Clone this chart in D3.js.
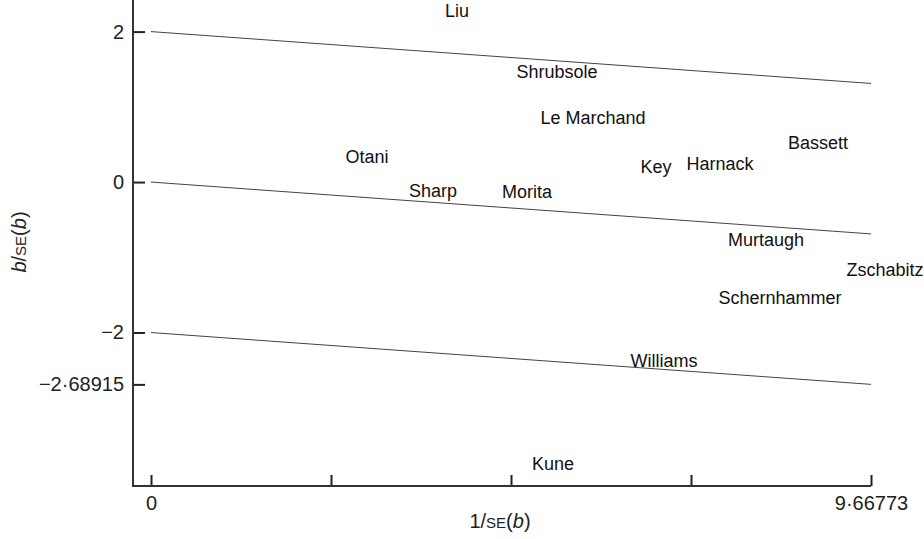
<!DOCTYPE html>
<html>
<head>
<meta charset="utf-8">
<script src="https://cdn.jsdelivr.net/npm/d3@7/dist/d3.min.js"></script>
<style>
  html, body { margin: 0; padding: 0; background: #fff; }
  svg { display: block; font-family: "Liberation Sans", Arial, Helvetica, sans-serif; }
</style>
</head>
<body>
<svg id="chart" width="924" height="539"></svg>
<script>
// ---- data ----
const studies = ["Liu", "Shrubsole", "Le Marchand", "Otani", "Sharp", "Morita", "Key", "Harnack",
                 "Bassett", "Murtaugh", "Zschabitz", "Schernhammer", "Williams", "Kune"];
const precision = [4.109, 5.452, 5.935, 2.900, 3.787, 5.049, 6.781, 7.640,
                   8.956, 8.258, 9.856, 8.446, 6.888, 5.398];   // 1/SE(b)
const zScores = [2.274, 1.463, 0.864, 0.346, -0.106, -0.120, 0.213, 0.253,
                 0.519, -0.758, -1.157, -1.529, -2.367, -3.737]; // b/SE(b)
const xMax = 9.66773;
const lineStart = [2, 0, -2];                  // values at x = 0
const lineEnd = [1.31085, -0.68915, -2.68915]; // values at x = xMax
const yTickValues = [2, 0, -2, -2.68915];
const yTickLabels = ["2", "0", "\u22122", "\u22122\u00b768915"];
const xTickValues = [0, xMax / 4, xMax / 2, 3 * xMax / 4, xMax];
const xTickLabels = ["0", "", "", "", "9\u00b766773"];

// ---- scales ----
const svg = d3.select("#chart");
const axisX = 133, axisY = 486;
const x = d3.scaleLinear().domain([0, xMax]).range([151, 871]);
const y = d3.scaleLinear().domain([-4.04, 2.42]).range([486, 0]);

const ink = "#222";
const tickFont = 20, labelFont = 18;

// reference lines
const lines = lineStart.map((s, i) => [[0, s], [xMax, lineEnd[i]]]);
svg.append("g").selectAll("line").data(lines).join("line")
  .attr("x1", d => x(d[0][0])).attr("y1", d => y(d[0][1]))
  .attr("x2", d => x(d[1][0])).attr("y2", d => y(d[1][1]))
  .attr("stroke", "#444").attr("stroke-width", 1);

// y axis
const yAxis = d3.axisLeft(y).tickValues(yTickValues)
  .tickFormat((d, i) => yTickLabels[i])
  .tickSizeInner(-12).tickSizeOuter(0).tickPadding(9);
const gy = svg.append("g").attr("transform", `translate(${axisX},0)`).call(yAxis);
gy.select(".domain").remove();
gy.selectAll(".tick line").attr("stroke", ink).attr("stroke-width", 2);
gy.selectAll("text").attr("font-size", tickFont).attr("fill", ink)
  .attr("font-family", "'Liberation Sans', Arial, sans-serif");

// x axis
const xAxis = d3.axisBottom(x).tickValues(xTickValues)
  .tickFormat((d, i) => xTickLabels[i])
  .tickSizeInner(-11).tickSizeOuter(0).tickPadding(10);
const gx = svg.append("g").attr("transform", `translate(0,${axisY})`).call(xAxis);
gx.select(".domain").remove();
gx.selectAll(".tick line").attr("stroke", ink).attr("stroke-width", 2);
gx.selectAll("text").attr("font-size", tickFont).attr("fill", ink)
  .attr("font-family", "'Liberation Sans', Arial, sans-serif");

// axis lines
svg.append("line").attr("x1", axisX).attr("x2", axisX).attr("y1", 0).attr("y2", axisY)
  .attr("stroke", "#333").attr("stroke-width", 2);
svg.append("line").attr("x1", axisX - 1).attr("x2", x(xMax)).attr("y1", axisY).attr("y2", axisY)
  .attr("stroke", "#333").attr("stroke-width", 2);

// study labels
svg.append("g").selectAll("text").data(studies).join("text")
  .attr("x", (d, i) => x(precision[i]))
  .attr("y", (d, i) => y(zScores[i]))
  .attr("dy", "0.36em")
  .attr("text-anchor", "middle")
  .attr("font-size", labelFont)
  .attr("fill", "#111")
  .text(d => d);

// axis titles
const xt = svg.append("text").attr("x", 500).attr("y", 528)
  .attr("text-anchor", "middle").attr("font-size", 20).attr("fill", ink);
xt.append("tspan").text("1/");
xt.append("tspan").attr("font-size", 15).text("SE");
xt.append("tspan").text("(");
xt.append("tspan").attr("font-style", "italic").text("b");
xt.append("tspan").text(")");

const yt = svg.append("text").attr("transform", "translate(26,242) rotate(-90)")
  .attr("text-anchor", "middle").attr("font-size", 20).attr("fill", ink);
yt.append("tspan").attr("font-style", "italic").text("b");
yt.append("tspan").text("/");
yt.append("tspan").attr("font-size", 15).text("SE");
yt.append("tspan").text("(");
yt.append("tspan").attr("font-style", "italic").text("b");
yt.append("tspan").text(")");
</script>
</body>
</html>
